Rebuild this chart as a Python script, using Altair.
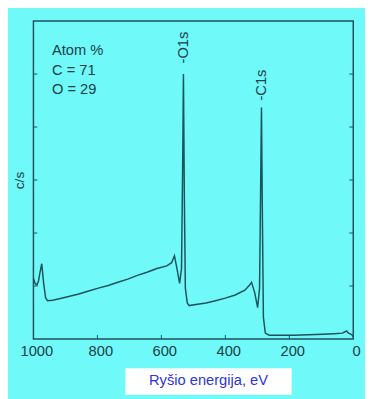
import altair as alt
import pandas as pd

# XPS survey spectrum (binding energy eV, counts in axis units 0..6)
energy = [1000, 995, 989, 984, 980, 974, 968, 962, 956, 940, 919, 890, 858, 830, 797, 766, 736, 705,
          675, 645, 614, 583, 568, 559, 550, 543, 537, 533, 531, 528, 525, 519, 513, 492, 460, 431,
          400, 369, 339, 324, 318, 308, 299, 293, 290, 287, 284, 281, 275, 263, 230, 186, 140, 95,
          60, 34, 21, 15, 8, 3, 0]
counts = [1.14, 1.05, 1.02, 1.10, 1.24, 1.42, 1.05, 0.78, 0.72, 0.73, 0.76, 0.80, 0.85, 0.90, 0.96, 1.01,
          1.07, 1.13, 1.20, 1.26, 1.33, 1.38, 1.44, 1.57, 1.29, 1.05, 1.33, 3.5, 5.0, 2.6, 0.96, 0.68,
          0.63, 0.65, 0.68, 0.72, 0.77, 0.83, 0.92, 1.02, 1.07, 0.87, 0.59, 0.96, 2.62, 4.37, 2.25,
          0.41, 0.11, 0.07, 0.07, 0.07, 0.08, 0.09, 0.10, 0.11, 0.15, 0.11, 0.09, 0.07, 0.04]

peak_names = ["-O1s", "-C1s"]
peak_energy = [531, 287]
peak_label_y = [5.2, 4.5]

note_lines = ["Atom %", "C = 71", "O = 29"]
note_y = [5.45, 5.08, 4.72]

x_ticks = [1000, 800, 600, 400, 200, 0]
inner_x_ticks = [800, 600, 400, 200]
y_ticks = [1, 2, 3, 4, 5]

x_title = "Ryšio energija, eV"
y_title = "c/s"

LINE = "#1f525c"
TXT = "#1d3f48"
FONT = "Liberation Sans"

W, H = 327, 325

spec = pd.DataFrame({"e": energy, "c": counts})
peaks = pd.DataFrame({"name": peak_names, "e": peak_energy, "y": peak_label_y})
notes = pd.DataFrame({"t": note_lines, "y": note_y})
xt = pd.DataFrame({"e": inner_x_ticks})
yt = pd.DataFrame({"y": y_ticks})

xscale = alt.Scale(domain=[0, 1000], reverse=True, nice=False)
yscale = alt.Scale(domain=[0, 6], nice=False)

xaxis = alt.Axis(values=x_ticks, format="d", labelFlush=False, ticks=False, domain=False, grid=False,
                 labelFont=FONT, labelFontSize=15, labelColor=TXT, labelPadding=5, labelOffset=3,
                 title=None)
yaxis = alt.Axis(values=y_ticks, labels=False, ticks=False, domain=False, grid=False,
                 title=y_title, titleFont=FONT, titleFontSize=14, titleFontWeight="normal",
                 titleColor=TXT, titlePadding=7)

line = alt.Chart(spec).mark_line(color=LINE, strokeWidth=1.5).encode(
    x=alt.X("e:Q", scale=xscale, axis=xaxis),
    y=alt.Y("c:Q", scale=yscale, axis=yaxis),
    order="e:Q" if False else alt.Order("idx:Q"),
).transform_window(idx="row_number()")

peak_text = alt.Chart(peaks).mark_text(angle=270, align="left", baseline="middle", font=FONT,
                                       fontSize=15, color=TXT).encode(
    x=alt.X("e:Q", scale=xscale), y=alt.Y("y:Q", scale=yscale), text="name:N")

note_text = alt.Chart(notes).mark_text(align="left", baseline="middle", font=FONT, fontSize=15,
                                       color=TXT).encode(
    x=alt.value(19), y=alt.Y("y:Q", scale=yscale), text="t:N")

xticks_b = alt.Chart(xt).mark_rule(color=LINE, strokeWidth=1).encode(
    x=alt.X("e:Q", scale=xscale), y=alt.value(H), y2=alt.value(H - 4))
yticks_l = alt.Chart(yt).mark_rule(color=LINE, strokeWidth=1).encode(
    y=alt.Y("y:Q", scale=yscale), x=alt.value(0), x2=alt.value(4))
yticks_r = alt.Chart(yt).mark_rule(color=LINE, strokeWidth=1).encode(
    y=alt.Y("y:Q", scale=yscale), x=alt.value(W - 4), x2=alt.value(W))

title_box = alt.Chart(pd.DataFrame({"t": [x_title]})).mark_rect(color="white", clip=False).encode(
    x=alt.value(94), x2=alt.value(264), y=alt.value(355), y2=alt.value(382))
title_text = alt.Chart(pd.DataFrame({"t": [x_title]})).mark_text(
    font=FONT, fontSize=15, color="#2d35d6", align="center", baseline="middle").encode(
    x=alt.value(179), y=alt.value(367), text="t:N")

chart = alt.layer(line, peak_text, note_text, xticks_b, yticks_l, yticks_r, title_box, title_text).properties(
    width=W, height=H,
    background="#6ff9f9",
    padding={"left": 26, "top": 9, "right": 12, "bottom": 57},
    autosize=alt.AutoSizeParams(type="none"),
).configure_view(stroke=LINE, strokeWidth=1.5)

chart.save("out.html", embed_options={"renderer": "svg", "actions": False})
